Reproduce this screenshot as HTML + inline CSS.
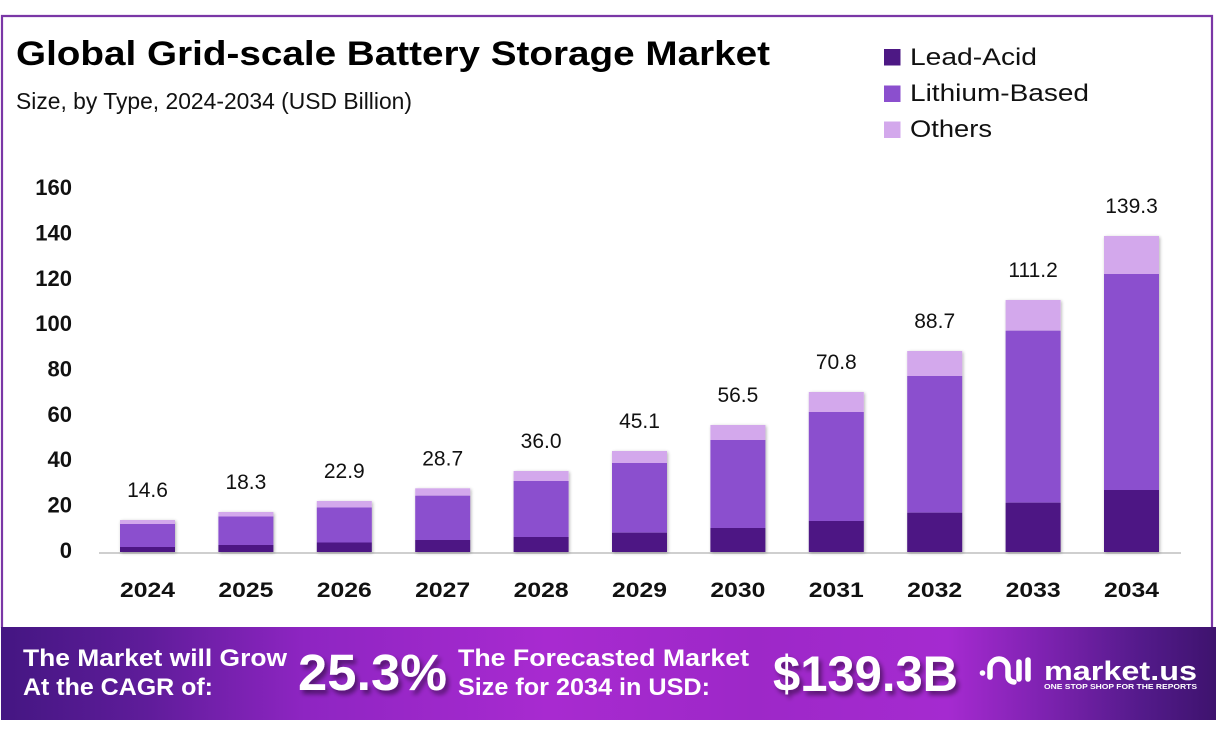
<!DOCTYPE html>
<html>
<head>
<meta charset="utf-8">
<style>
  html,body{margin:0;padding:0;background:#fff;}
  svg{display:block;}
  text{font-family:"Liberation Sans",sans-serif;}
</style>
</head>
<body>
<svg width="1216" height="735" viewBox="0 0 1216 735" xmlns="http://www.w3.org/2000/svg">
  <defs>
    <linearGradient id="ban" x1="0" y1="0" x2="1" y2="0">
      <stop offset="0" stop-color="#441682"/>
      <stop offset="0.12" stop-color="#5f1c9a"/>
      <stop offset="0.25" stop-color="#8e25c2"/>
      <stop offset="0.45" stop-color="#a82ad0"/>
      <stop offset="0.62" stop-color="#9d28c8"/>
      <stop offset="0.78" stop-color="#a52ad0"/>
      <stop offset="0.86" stop-color="#7d22b0"/>
      <stop offset="0.94" stop-color="#531a8a"/>
      <stop offset="1" stop-color="#3e136e"/>
    </linearGradient>
    <filter id="ts" x="-10%" y="-20%" width="130%" height="150%">
      <feGaussianBlur in="SourceAlpha" stdDeviation="2.5"/>
      <feOffset dx="3" dy="4"/>
      <feComponentTransfer><feFuncA type="linear" slope="0.45"/></feComponentTransfer>
      <feMerge><feMergeNode/><feMergeNode in="SourceGraphic"/></feMerge>
    </filter>
    <filter id="bs" x="-20%" y="-10%" width="140%" height="120%">
      <feGaussianBlur in="SourceAlpha" stdDeviation="1.5"/>
      <feOffset dx="1" dy="1"/>
      <feComponentTransfer><feFuncA type="linear" slope="0.3"/></feComponentTransfer>
      <feMerge><feMergeNode/><feMergeNode in="SourceGraphic"/></feMerge>
    </filter>
  </defs>

  <!-- frame -->
  <rect x="0" y="0" width="1216" height="735" fill="#fff"/>
  <path d="M2,628 V16 H1212 V628" fill="none" stroke="#7a37a6" stroke-width="2.2"/>

  <!-- title -->
  <text x="16" y="65" font-size="34" font-weight="bold" fill="#000" textLength="754" lengthAdjust="spacingAndGlyphs">Global Grid-scale Battery Storage Market</text>
  <text x="16" y="109" font-size="23" fill="#111" textLength="396" lengthAdjust="spacingAndGlyphs">Size, by Type, 2024-2034 (USD Billion)</text>

  <!-- legend -->
  <rect x="884" y="49" width="16.5" height="16.5" fill="#4d1884"/>
  <text x="910" y="65" font-size="24" fill="#111" textLength="127" lengthAdjust="spacingAndGlyphs">Lead-Acid</text>
  <rect x="884" y="85.5" width="16.5" height="16.5" fill="#8b4fce"/>
  <text x="910" y="101" font-size="24" fill="#111" textLength="179" lengthAdjust="spacingAndGlyphs">Lithium-Based</text>
  <rect x="884" y="121.5" width="16.5" height="16.5" fill="#d3a8ec"/>
  <text x="910" y="137" font-size="24" fill="#111" textLength="82" lengthAdjust="spacingAndGlyphs">Others</text>

  <!-- y axis labels -->
  <g font-size="22" font-weight="bold" fill="#111" text-anchor="end">
    <text x="72" y="195">160</text>
    <text x="72" y="240.5">140</text>
    <text x="72" y="286">120</text>
    <text x="72" y="331">100</text>
    <text x="72" y="376.5">80</text>
    <text x="72" y="422">60</text>
    <text x="72" y="467">40</text>
    <text x="72" y="512.5">20</text>
    <text x="72" y="558">0</text>
  </g>

  <!-- axis line -->
  <line x1="99" y1="553" x2="1181" y2="553" stroke="#cfcfcf" stroke-width="2"/>

  <!-- bars -->
  <g filter="url(#bs)">
    <!-- 2024 -->
    <rect x="120" y="520" width="55" height="4" fill="#d3a8ec"/>
    <rect x="120" y="524" width="55" height="23" fill="#8b4fce"/>
    <rect x="120" y="547" width="55" height="5" fill="#4d1884"/>
    <!-- 2025 -->
    <rect x="218.4" y="512" width="55" height="4.5" fill="#d3a8ec"/>
    <rect x="218.4" y="516.5" width="55" height="28.5" fill="#8b4fce"/>
    <rect x="218.4" y="545" width="55" height="7" fill="#4d1884"/>
    <!-- 2026 -->
    <rect x="316.8" y="501" width="55" height="6.5" fill="#d3a8ec"/>
    <rect x="316.8" y="507.5" width="55" height="35" fill="#8b4fce"/>
    <rect x="316.8" y="542.5" width="55" height="9.5" fill="#4d1884"/>
    <!-- 2027 -->
    <rect x="415.2" y="488.3" width="55" height="7.4" fill="#d3a8ec"/>
    <rect x="415.2" y="495.7" width="55" height="44.3" fill="#8b4fce"/>
    <rect x="415.2" y="540" width="55" height="12" fill="#4d1884"/>
    <!-- 2028 -->
    <rect x="513.6" y="471" width="55" height="10" fill="#d3a8ec"/>
    <rect x="513.6" y="481" width="55" height="56" fill="#8b4fce"/>
    <rect x="513.6" y="537" width="55" height="15" fill="#4d1884"/>
    <!-- 2029 -->
    <rect x="612" y="451" width="55" height="12" fill="#d3a8ec"/>
    <rect x="612" y="463" width="55" height="69.7" fill="#8b4fce"/>
    <rect x="612" y="532.7" width="55" height="19.3" fill="#4d1884"/>
    <!-- 2030 -->
    <rect x="710.4" y="425" width="55" height="15" fill="#d3a8ec"/>
    <rect x="710.4" y="440" width="55" height="88" fill="#8b4fce"/>
    <rect x="710.4" y="528" width="55" height="24" fill="#4d1884"/>
    <!-- 2031 -->
    <rect x="808.8" y="392" width="55" height="20" fill="#d3a8ec"/>
    <rect x="808.8" y="412" width="55" height="109" fill="#8b4fce"/>
    <rect x="808.8" y="521" width="55" height="31" fill="#4d1884"/>
    <!-- 2032 -->
    <rect x="907.2" y="351" width="55" height="25" fill="#d3a8ec"/>
    <rect x="907.2" y="376" width="55" height="136.7" fill="#8b4fce"/>
    <rect x="907.2" y="512.7" width="55" height="39.3" fill="#4d1884"/>
    <!-- 2033 -->
    <rect x="1005.6" y="300" width="55" height="30.7" fill="#d3a8ec"/>
    <rect x="1005.6" y="330.7" width="55" height="172" fill="#8b4fce"/>
    <rect x="1005.6" y="502.7" width="55" height="49.3" fill="#4d1884"/>
    <!-- 2034 -->
    <rect x="1104" y="236" width="55" height="38" fill="#d3a8ec"/>
    <rect x="1104" y="274" width="55" height="216" fill="#8b4fce"/>
    <rect x="1104" y="490" width="55" height="62" fill="#4d1884"/>
  </g>

  <!-- value labels -->
  <g font-size="21" fill="#111" text-anchor="middle">
    <text x="147.5" y="497">14.6</text>
    <text x="245.9" y="489">18.3</text>
    <text x="344.3" y="478">22.9</text>
    <text x="442.7" y="465.5">28.7</text>
    <text x="541.1" y="448">36.0</text>
    <text x="639.5" y="428">45.1</text>
    <text x="737.9" y="402">56.5</text>
    <text x="836.3" y="369">70.8</text>
    <text x="934.7" y="328">88.7</text>
    <text x="1033.1" y="277">111.2</text>
    <text x="1131.5" y="213">139.3</text>
  </g>

  <!-- x labels -->
  <g font-size="21" font-weight="bold" fill="#111" text-anchor="middle">
    <text x="147.5" y="597" textLength="55" lengthAdjust="spacingAndGlyphs">2024</text>
    <text x="245.9" y="597" textLength="55" lengthAdjust="spacingAndGlyphs">2025</text>
    <text x="344.3" y="597" textLength="55" lengthAdjust="spacingAndGlyphs">2026</text>
    <text x="442.7" y="597" textLength="55" lengthAdjust="spacingAndGlyphs">2027</text>
    <text x="541.1" y="597" textLength="55" lengthAdjust="spacingAndGlyphs">2028</text>
    <text x="639.5" y="597" textLength="55" lengthAdjust="spacingAndGlyphs">2029</text>
    <text x="737.9" y="597" textLength="55" lengthAdjust="spacingAndGlyphs">2030</text>
    <text x="836.3" y="597" textLength="55" lengthAdjust="spacingAndGlyphs">2031</text>
    <text x="934.7" y="597" textLength="55" lengthAdjust="spacingAndGlyphs">2032</text>
    <text x="1033.1" y="597" textLength="55" lengthAdjust="spacingAndGlyphs">2033</text>
    <text x="1131.5" y="597" textLength="55" lengthAdjust="spacingAndGlyphs">2034</text>
  </g>

  <!-- banner -->
  <rect x="1" y="627" width="1215" height="93" fill="url(#ban)"/>
  <g fill="#fff" font-weight="bold">
    <text x="23" y="666" font-size="24" textLength="264" lengthAdjust="spacingAndGlyphs">The Market will Grow</text>
    <text x="23" y="695" font-size="24" textLength="190" lengthAdjust="spacingAndGlyphs">At the CAGR of:</text>
    <text x="298" y="690" font-size="51" textLength="149" lengthAdjust="spacingAndGlyphs" filter="url(#ts)">25.3%</text>
    <text x="458" y="666" font-size="24" textLength="291" lengthAdjust="spacingAndGlyphs">The Forecasted Market</text>
    <text x="458" y="695" font-size="24" textLength="252" lengthAdjust="spacingAndGlyphs">Size for 2034 in USD:</text>
    <text x="773" y="691" font-size="50" textLength="185" lengthAdjust="spacingAndGlyphs" filter="url(#ts)">$139.3B</text>
    <text x="1044" y="680" font-size="27" textLength="153" lengthAdjust="spacingAndGlyphs">market.us</text>
    <text x="1044" y="689" font-size="7" textLength="153" lengthAdjust="spacingAndGlyphs">ONE STOP SHOP FOR THE REPORTS</text>
  </g>
  <!-- logo icon -->
  <g fill="none" stroke="#fff" stroke-width="5.5" stroke-linecap="round">
    <circle cx="982.5" cy="673" r="2.8" fill="#fff" stroke="none"/>
    <path d="M990,677 V668 A9,9 0 0 1 1008,668 V676 A6,6 0 0 0 1014,682"/>
    <line x1="1019" y1="662" x2="1019" y2="679"/>
    <line x1="1028" y1="660" x2="1028" y2="679"/>
  </g>
</svg>
</body>
</html>
